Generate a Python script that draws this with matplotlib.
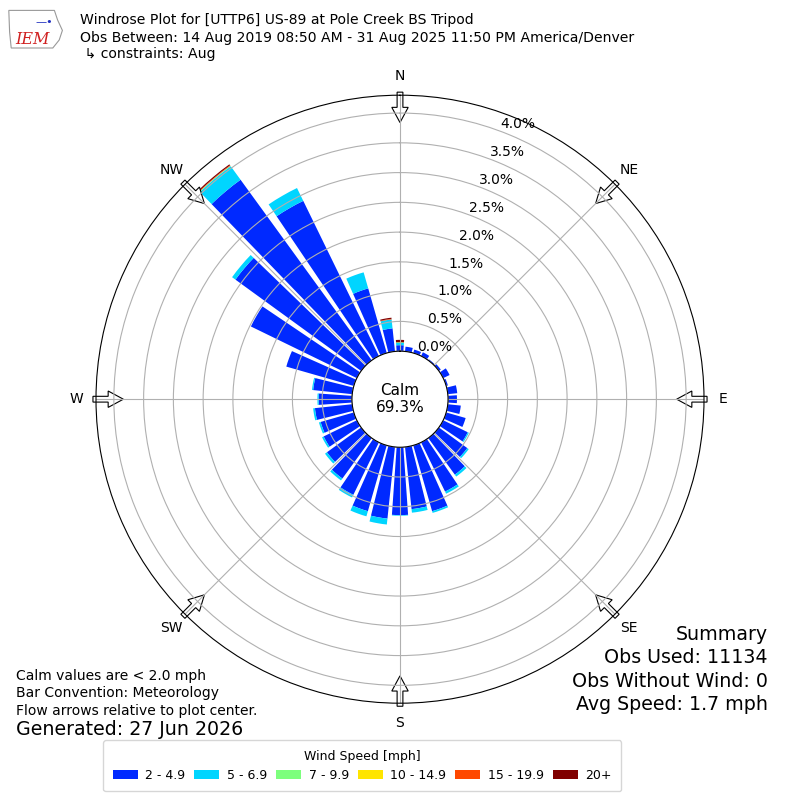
import numpy as np
import matplotlib
matplotlib.use("Agg")
import matplotlib.pyplot as plt
import matplotlib.patches as mpatches

# direction bin centres (deg, meteorological "from")
directions = np.arange(0, 360, 10)

# percent of observations per direction, per speed bin
spd_2_5 = [0.10, 0.08, 0.06, 0.07, 0.02, 0.04, 0.12, 0.03, 0.16, 0.15,
           0.22, 0.34, 0.46, 0.59, 0.76, 0.92, 1.15, 1.05, 1.14, 1.21,
           1.15, 0.98, 0.84, 0.71, 0.62, 0.58, 0.63, 0.56, 0.66, 1.18,
           1.98, 2.61, 3.75, 2.90, 1.13, 0.39]
spd_5_7 = [0.04, 0, 0, 0, 0, 0, 0, 0, 0, 0,
           0, 0, 0.02, 0.03, 0.04, 0.04, 0.03, 0.06, 0.01, 0.10,
           0.09, 0.05, 0.04, 0.04, 0.03, 0.03, 0.03, 0.02, 0.02, 0,
           0, 0.07, 0.28, 0.24, 0.28, 0.15]
spd_7_10 = [0.01] + [0] * 31 + [0.01, 0, 0, 0]
spd_10_15 = [0] * 36
spd_15_20 = [0] * 32 + [0.01, 0, 0, 0.01]
spd_20p = [0.04] + [0] * 31 + [0.02, 0, 0, 0.02]

bin_labels = ["2 - 4.9", "5 - 6.9", "7 - 9.9", "10 - 14.9", "15 - 19.9", "20+"]
bin_colors = ["#0029ff", "#00d5ff", "#7dff7d", "#ffe500", "#ff4800", "#800000"]
series = [spd_2_5, spd_5_7, spd_7_10, spd_10_15, spd_15_20, spd_20p]

calm_pct = 69.3
compass = ["N", "NE", "E", "SE", "S", "SW", "W", "NW"]
rticks = np.arange(0, 4.01, 0.5)

fig = plt.figure(figsize=(8, 8), dpi=100)
ax = fig.add_axes([0.12, 0.121, 0.76, 0.76], projection="polar")
ax.set_theta_zero_location("N")
ax.set_theta_direction(-1)

theta = np.radians(directions)
bottom = np.zeros(len(directions))
for vals, col, lab in zip(series, bin_colors, bin_labels):
    vals = np.array(vals)
    ax.bar(theta, vals, width=np.radians(8), bottom=bottom, color=col,
           label=lab, linewidth=0)
    bottom = bottom + vals

ax.set_rorigin(-0.807)
ax.set_ylim(0, 4.30)
ax.set_yticks(rticks)
ax.set_yticklabels(["%.1f%%" % t for t in rticks], fontsize=10)
ax.set_rlabel_position(20.5)
ax.set_xticks(np.radians(np.arange(0, 360, 45)))
ax.set_xticklabels(compass, fontsize=10)
ax.grid(True, color="#b0b0b0", linewidth=0.8)

ax.text(0.5, 0.5, "Calm\n%.1f%%" % calm_pct, transform=ax.transAxes,
        ha="center", va="center", fontsize=11)

# flow arrows on the outer ring
for a in np.radians(np.arange(0, 360, 45)):
    x0 = 0.5 + 0.505 * np.sin(a)
    y0 = 0.5 + 0.505 * np.cos(a)
    L = 0.05
    arr = mpatches.FancyArrow(x0, y0, -L * np.sin(a), -L * np.cos(a),
                              width=0.0095, head_width=0.027, head_length=0.025,
                              length_includes_head=True, transform=ax.transAxes,
                              facecolor="white", edgecolor="black", lw=0.8,
                              clip_on=False, zorder=1.2)
    ax.add_patch(arr)

leg = fig.legend(loc="lower center", bbox_to_anchor=(0.453, 0.003), ncol=6,
                 title="Wind Speed [mph]", fontsize=9, title_fontsize=9,
                 handlelength=2.0, handletextpad=0.6, columnspacing=0.72,
                 borderpad=0.75)

# rough stand-in for the IEM logo
logo = mpatches.Polygon([[0.011, 0.987], [0.068, 0.987], [0.072, 0.975],
                         [0.078, 0.962], [0.074, 0.95], [0.066, 0.94],
                         [0.014, 0.94], [0.012, 0.96]], closed=True,
                        transform=fig.transFigure, facecolor="none",
                        edgecolor="#999999", lw=0.8)
fig.patches.append(logo)
fig.text(0.019, 0.951, "IEM", color="#d02020", fontsize=11.5, style="italic",
         family="DejaVu Serif", va="center")
fig.text(0.055, 0.972, "\u2014\u2022", color="#2030c0", fontsize=8,
         ha="center", va="center")

fig.text(0.1, 0.975, "Windrose Plot for [UTTP6] US-89 at Pole Creek BS Tripod",
         fontsize=10.1, va="center")
fig.text(0.1, 0.953, "Obs Between: 14 Aug 2019 08:50 AM - 31 Aug 2025 11:50 PM America/Denver",
         fontsize=10.1, va="center")
fig.text(0.1, 0.933, " \u21b3 constraints: Aug", fontsize=10.1, va="center")

fig.text(0.02, 0.1555, "Calm values are < 2.0 mph", fontsize=10, va="center")
fig.text(0.02, 0.134, "Bar Convention: Meteorology", fontsize=10, va="center")
fig.text(0.02, 0.1115, "Flow arrows relative to plot center.", fontsize=10, va="center")
fig.text(0.02, 0.088, "Generated: 27 Jun 2026", fontsize=13.7, va="center")

summary = ["Summary", "Obs Used: 11134", "Obs Without Wind: 0", "Avg Speed: 1.7 mph"]
for i, s in enumerate(summary):
    fig.text(0.96, 0.2075 - i * 0.0294, s, fontsize=13.7, ha="right", va="center")

fig.savefig("out.png", dpi=100)
